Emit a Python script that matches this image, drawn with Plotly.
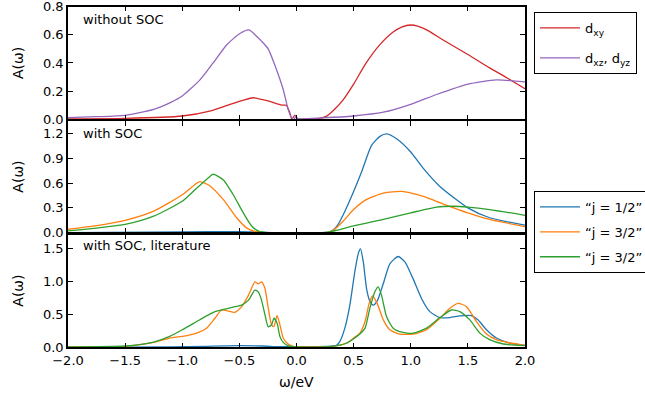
import plotly.graph_objects as go

# ---------------- data ----------------
# Panel 1: without SOC
dxy_x = [-2.0, -1.5, -1.0, -0.75, -0.6, -0.47, -0.38, -0.25, -0.17, -0.12, -0.09, -0.06, -0.04, -0.015, 0.01, 0.1, 0.2, 0.26, 0.32, 0.41, 0.5, 0.61, 0.73, 0.846, 0.92, 1.0, 1.06, 1.14, 1.28, 1.5, 1.69, 1.84, 2.0]
dxy_y = [0.003, 0.006, 0.023, 0.06, 0.10, 0.134, 0.153, 0.13, 0.11, 0.10, 0.10, 0.05, 0.0, 0.03, 0.0, 0.002, 0.006, 0.02, 0.06, 0.14, 0.25, 0.40, 0.53, 0.62, 0.655, 0.67, 0.662, 0.635, 0.565, 0.46, 0.365, 0.295, 0.217]

dxz_x = [-2.0, -1.75, -1.5, -1.25, -1.1, -1.0, -0.845, -0.73, -0.61, -0.495, -0.416, -0.35, -0.3, -0.248, -0.174, -0.116, -0.073, -0.043, -0.02, -0.005, 0.01, 0.23, 0.5, 0.76, 1.0, 1.226, 1.5, 1.75, 2.0]
dxz_y = [0.012, 0.018, 0.028, 0.07, 0.12, 0.165, 0.28, 0.40, 0.53, 0.61, 0.635, 0.59, 0.55, 0.50, 0.35, 0.21, 0.07, 0.01, 0.0, 0.025, 0.005, 0.01, 0.023, 0.05, 0.106, 0.176, 0.25, 0.28, 0.265]

# Panel 2: with SOC
soc_j12_x = [-2.0, -1.0, -0.5, -0.3, -0.2, 0.22, 0.28, 0.32, 0.36, 0.41, 0.5, 0.57, 0.657, 0.73, 0.79, 0.876, 1.0, 1.11, 1.255, 1.5, 1.69, 2.0]
soc_j12_y = [0.0, 0.008, 0.01, 0.005, 0.0, 0.0, 0.006, 0.03, 0.09, 0.22, 0.50, 0.74, 1.06, 1.17, 1.20, 1.14, 0.98, 0.78, 0.56, 0.30, 0.18, 0.09]

soc_j32a_x = [-2.0, -1.75, -1.5, -1.25, -1.0, -0.874, -0.845, -0.76, -0.64, -0.524, -0.44, -0.4, -0.35, -0.3, -0.25, 0.22, 0.28, 0.32, 0.41, 0.5, 0.61, 0.76, 0.92, 1.11, 1.28, 1.5, 1.69, 2.0]
soc_j32a_y = [0.04, 0.085, 0.148, 0.26, 0.46, 0.60, 0.62, 0.57, 0.40, 0.18, 0.06, 0.03, 0.01, 0.002, 0.0, 0.0, 0.006, 0.025, 0.14, 0.28, 0.40, 0.48, 0.50, 0.44, 0.35, 0.24, 0.16, 0.072]

soc_j32b_x = [-2.0, -1.5, -1.25, -1.0, -0.874, -0.76, -0.73, -0.64, -0.554, -0.466, -0.393, -0.35, -0.32, -0.28, -0.24, 0.22, 0.28, 0.35, 0.5, 0.76, 1.0, 1.226, 1.37, 1.5, 1.69, 2.0]
soc_j32b_y = [0.02, 0.10, 0.20, 0.38, 0.54, 0.68, 0.71, 0.64, 0.46, 0.24, 0.08, 0.03, 0.012, 0.003, 0.0, 0.0, 0.005, 0.025, 0.08, 0.16, 0.24, 0.31, 0.32, 0.31, 0.28, 0.21]

# Panel 3: with SOC, literature
lit_j12_x = [-2.0, -1.1, -0.8, -0.5, -0.3, -0.15, 0.0, 0.35, 0.38, 0.423, 0.467, 0.51, 0.54, 0.56, 0.585, 0.613, 0.642, 0.671, 0.706, 0.76, 0.817, 0.89, 0.95, 1.02, 1.094, 1.167, 1.255, 1.342, 1.43, 1.53, 1.59, 1.663, 1.75, 1.867, 2.0]
lit_j12_y = [0.0, 0.005, 0.015, 0.025, 0.02, 0.01, 0.01, 0.03, 0.09, 0.29, 0.64, 1.14, 1.415, 1.49, 1.29, 0.89, 0.70, 0.64, 0.70, 0.965, 1.265, 1.375, 1.29, 1.04, 0.74, 0.54, 0.45, 0.45, 0.475, 0.48, 0.415, 0.265, 0.14, 0.065, 0.03]

lit_j32a_x = [-2.0, -1.5, -1.25, -1.11, -1.0, -0.874, -0.787, -0.714, -0.655, -0.6, -0.54, -0.48, -0.42, -0.364, -0.335, -0.306, -0.276, -0.247, -0.218, -0.198, -0.17, -0.145, -0.116, -0.073, -0.03, 0.0, 0.3, 0.44, 0.5, 0.555, 0.6, 0.636, 0.666, 0.706, 0.76, 0.817, 0.905, 1.02, 1.138, 1.255, 1.342, 1.415, 1.488, 1.575, 1.663, 1.75, 1.867, 2.0]
lit_j32a_y = [0.005, 0.015, 0.075, 0.14, 0.165, 0.215, 0.29, 0.44, 0.565, 0.55, 0.53, 0.615, 0.79, 0.99, 0.96, 0.99, 0.89, 0.59, 0.34, 0.315, 0.48, 0.34, 0.14, 0.05, 0.015, 0.01, 0.01, 0.065, 0.14, 0.215, 0.39, 0.665, 0.78, 0.665, 0.415, 0.265, 0.20, 0.20, 0.265, 0.44, 0.59, 0.665, 0.615, 0.39, 0.20, 0.115, 0.065, 0.03]

lit_j32b_x = [-2.0, -1.5, -1.25, -1.11, -1.0, -0.874, -0.787, -0.714, -0.655, -0.54, -0.48, -0.42, -0.364, -0.335, -0.306, -0.276, -0.247, -0.218, -0.198, -0.17, -0.145, -0.116, -0.07, 0.0, 0.3, 0.44, 0.5, 0.555, 0.6, 0.642, 0.686, 0.715, 0.744, 0.788, 0.846, 0.934, 1.02, 1.138, 1.255, 1.357, 1.43, 1.517, 1.605, 1.69, 1.81, 2.0]
lit_j32b_y = [0.005, 0.02, 0.08, 0.165, 0.265, 0.39, 0.475, 0.54, 0.565, 0.615, 0.64, 0.715, 0.865, 0.84, 0.715, 0.49, 0.31, 0.34, 0.44, 0.365, 0.165, 0.075, 0.02, 0.005, 0.01, 0.065, 0.13, 0.2, 0.29, 0.59, 0.84, 0.915, 0.79, 0.465, 0.29, 0.225, 0.215, 0.29, 0.45, 0.565, 0.54, 0.415, 0.215, 0.115, 0.05, 0.025]

panel_labels = ["without SOC", "with SOC", "with SOC, literature"]
legend1_names = ["d<sub>xy</sub>", "d<sub>xz</sub>, d<sub>yz</sub>"]
legend2_names = ["“j = 1/2”", "“j = 3/2”", "“j = 3/2”"]
x_label = "ω/eV"
y_label = "A(ω)"

RED, PURPLE, BLUE, ORANGE, GREEN = "#d62728", "#9467bd", "#1f77b4", "#ff7f0e", "#2ca02c"
FONT = "DejaVu Sans"
W, H = 645, 396
LW = 1.5  # spine width

fig = go.Figure()

def line(x, y, color, axis, name=None, legend=None, group=None):
    kw = dict(x=x, y=y, mode="lines", xaxis="x" + axis, yaxis="y" + axis,
              line=dict(color=color, width=1.3, shape="spline", smoothing=0.6),
              hoverinfo="skip")
    if name is None:
        kw.update(showlegend=False)
    else:
        kw.update(name=name, legend=legend, legendgroup=group)
    fig.add_trace(go.Scatter(**kw))

line(dxy_x, dxy_y, RED, "", legend1_names[0], "legend", "a")
line(dxz_x, dxz_y, PURPLE, "", legend1_names[1], "legend", "b")
line(soc_j12_x, soc_j12_y, BLUE, "2", legend2_names[0], "legend2", "c")
line(soc_j32a_x, soc_j32a_y, ORANGE, "2", legend2_names[1], "legend2", "d")
line(soc_j32b_x, soc_j32b_y, GREEN, "2", legend2_names[2], "legend2", "e")
line(lit_j12_x, lit_j12_y, BLUE, "3")
line(lit_j32a_x, lit_j32a_y, ORANGE, "3")
line(lit_j32b_x, lit_j32b_y, GREEN, "3")

# geometry (pixels)
x0, x1 = 68, 525
h = LW / 2
p_tops = [6.7, 120 + h, 233.3 + h]
p_bots = [120 - h, 233.3 - h, 347.3]
yranges = [[0, 0.8001], [0, 1.36], [0, 1.715]]
dticks = [0.2, 0.3, 0.5]

def fy(py):
    return 1 - py / H

axcommon = dict(showgrid=False, zeroline=False, showline=True, linecolor="black", linewidth=LW,
                mirror="ticks", ticks="inside", ticklen=5, tickwidth=1.3, tickcolor="black",
                ticklabeloverflow="allow",
                tickfont=dict(family=FONT, size=13, color="black"))

layout = dict(width=W, height=H, margin=dict(l=0, r=0, t=0, b=0, autoexpand=False),
              paper_bgcolor="white", plot_bgcolor="white", font=dict(family=FONT, size=13, color="black"))

for i, s in enumerate(["", "2", "3"]):
    layout["xaxis" + s] = dict(axcommon, domain=[x0 / W, x1 / W], range=[-2, 2], dtick=0.5,
                               tickformat=".1f", anchor="y" + s, showticklabels=(i == 2))
    layout["yaxis" + s] = dict(axcommon, domain=[fy(p_bots[i]), fy(p_tops[i])], range=yranges[i],
                               dtick=dticks[i], tickformat=".1f", anchor="x" + s)

layout["legend"] = dict(x=534 / W, y=fy(12), xanchor="left", yanchor="top", bordercolor="black",
                        borderwidth=1, bgcolor="white", font=dict(family=FONT, size=13),
                        tracegroupgap=10, itemwidth=40)
layout["legend2"] = dict(x=534 / W, y=fy(191), xanchor="left", yanchor="top", bordercolor="black",
                         borderwidth=1, bgcolor="white", font=dict(family=FONT, size=13),
                         tracegroupgap=5, itemwidth=40)

ann = []
label_y = [19, 133, 245]
for i in range(3):
    ann.append(dict(text=panel_labels[i], xref="paper", yref="paper", x=81 / W, y=fy(label_y[i]),
                    xanchor="left", yanchor="middle", showarrow=False, font=dict(family=FONT, size=13)))
    ann.append(dict(text=y_label, xref="paper", yref="paper", x=18 / W,
                    y=fy((p_tops[i] + p_bots[i]) / 2), xanchor="center", yanchor="middle",
                    textangle=-90, showarrow=False, font=dict(family=FONT, size=14)))
ann.append(dict(text=x_label, xref="paper", yref="paper", x=((x0 + x1) / 2) / W, y=fy(382),
                xanchor="center", yanchor="middle", showarrow=False, font=dict(family=FONT, size=14)))
layout["annotations"] = ann

fig.update_layout(**layout)
fig.write_html("out.html", config={"displayModeBar": False},
               post_script="document.body.style.margin='0px';document.body.style.overflow='hidden';")
